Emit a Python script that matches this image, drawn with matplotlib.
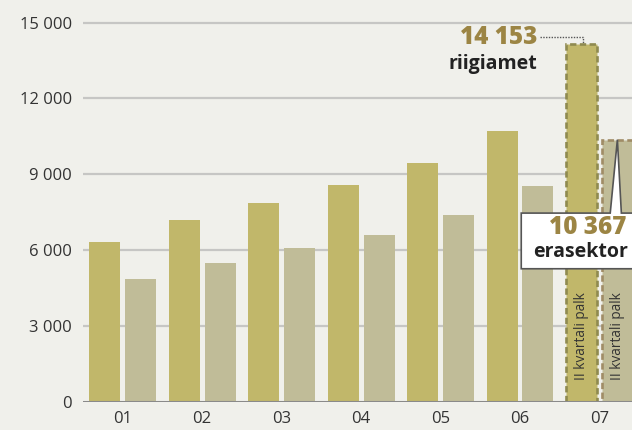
import numpy as np
import matplotlib
matplotlib.use("Agg")
import matplotlib.pyplot as plt
from matplotlib.patches import Polygon

# Data (monthly pay, years 2001-2007)
years = ["01", "02", "03", "04", "05", "06", "07"]
riigiamet = [6320, 7190, 7870, 8580, 9450, 10710, 14153]
erasektor = [4860, 5490, 6090, 6600, 7390, 8540, 10367]
yticks = [0, 3000, 6000, 9000, 12000, 15000]
ytick_labels = ["0", "3 000", "6 000", "9 000", "12 000", "15 000"]
note = "II kvartali palk"

BG = "#f0f0eb"
C_RIIG = "#c1b76a"
C_ERA = "#c0bc98"
E_RIIG = "#8f8a50"
E_ERA = "#a08c66"
GOLD = "#9c8544"

plt.rcParams["font.family"] = ["Open Sans", "DejaVu Sans"]

fig = plt.figure(figsize=(6.32, 4.30), dpi=100, facecolor=BG)
ax = fig.add_axes([83 / 632, 28 / 430, 549 / 632, 402 / 430], facecolor=BG)

x = np.arange(len(years))
off = 0.226
w = 0.39

for i in range(len(years)):
    last = i == len(years) - 1
    ax.bar(x[i] - off, riigiamet[i], w, color=C_RIIG, zorder=2,
           edgecolor=E_RIIG if last else "none",
           linestyle=(0, (2.4, 1.3)) if last else "-", linewidth=1.9 if last else 0)
    ax.bar(x[i] + off, erasektor[i], w, color=C_ERA, zorder=2,
           edgecolor=E_ERA if last else "none",
           linestyle=(0, (2.4, 1.3)) if last else "-", linewidth=1.9 if last else 0)

# notes inside the last bars
for xx in (x[-1] - off, x[-1] + off):
    ax.text(xx, 2600, note, rotation=90, ha="center", va="center",
            fontsize=9.8, color="#333333", zorder=5)

ax.set_xlim(-0.5, 6.41)
ax.set_ylim(0, 15890)
ax.set_yticks(yticks)
ax.set_yticklabels(ytick_labels)
ax.set_xticks(x)
ax.set_xticklabels(years)
ax.tick_params(axis="both", length=0, labelsize=12, colors="#333333")
ax.tick_params(axis="y", pad=8)
ax.tick_params(axis="x", pad=6.5)

for t in yticks[1:]:
    ax.axhline(t, color="#c6c6c4", linewidth=1.6, zorder=1)
ax.axhline(0, color="#8a8a8a", linewidth=2.2, zorder=3)

for s in ax.spines.values():
    s.set_visible(False)

# riigiamet annotation with dotted leader
xr = x[-1] - off
ax.plot([xr - 0.52, xr + 0.02, xr + 0.02],
        [riigiamet[-1] + 270, riigiamet[-1] + 270, riigiamet[-1]],
        color="#555555", linestyle=(0, (1, 1)), linewidth=1, zorder=4)
ax.text(xr - 0.555, riigiamet[-1] + 270, "14 153", ha="right", va="center",
        fontsize=17.5, fontweight="heavy", color=GOLD, zorder=5)
ax.text(xr - 0.56, riigiamet[-1] - 800, "riigiamet", ha="right", va="center",
        fontsize=14, fontweight="bold", color="#222222", zorder=5)

# erasektor callout box
xe = x[-1] + off
yv = erasektor[-1]
box = Polygon([(xe - 1.21, yv - 5100), (xe + 0.6, yv - 5100), (xe + 0.6, yv - 2900),
               (xe + 0.05, yv - 2900), (xe, yv), (xe - 0.09, yv - 2900),
               (xe - 1.21, yv - 2900)],
              closed=True, facecolor="white", edgecolor="#555555",
              linewidth=1.2, zorder=6)
ax.add_patch(box)
ax.text(xe + 0.11, yv - 3480, "10 367", ha="right", va="center",
        fontsize=17.5, fontweight="heavy", color=GOLD, zorder=7)
ax.text(xe + 0.13, yv - 4450, "erasektor", ha="right", va="center",
        fontsize=14, fontweight="bold", color="#222222", zorder=7)

fig.savefig("out.png", dpi=100, facecolor=BG)
